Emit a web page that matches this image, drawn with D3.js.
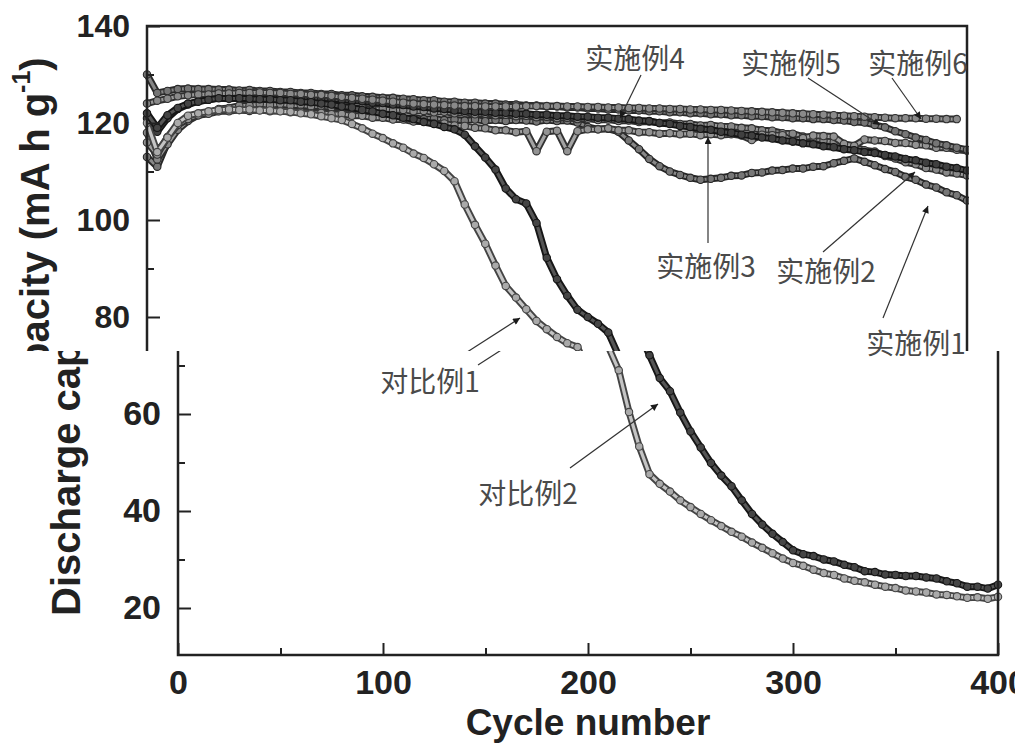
<!DOCTYPE html>
<html lang="zh">
<head>
  <meta charset="UTF-8">
  <title>Discharge capacity vs cycle number</title>
  <script src="https://d3js.org/d3.v7.min.js"></script>
  <style>
    body { margin: 0; background: #fff; }
    svg { display: block; }
    .tick text { font-family: "Liberation Sans", Arial, sans-serif; font-weight: bold; fill: #222; }
    .tick line { stroke: #222; stroke-width: 2; }
    .note { font-family: "Noto Sans CJK SC", sans-serif; fill: #4a4a4a; }
  </style>
</head>
<body>
  <svg width="1015" height="753"></svg>
  <script>
    const cycles = [
      0, 5, 10, 15, 20, 25, 30, 35, 40, 45,
      50, 55, 60, 65, 70, 75, 80, 85, 90, 95,
      100, 105, 110, 115, 120, 125, 130, 135, 140, 145,
      150, 155, 160, 165, 170, 175, 180, 185, 190, 195,
      200, 205, 210, 215, 220, 225, 230, 235, 240, 245,
      250, 255, 260, 265, 270, 275, 280, 285, 290, 295,
      300, 305, 310, 315, 320, 325, 330, 335, 340, 345,
      350, 355, 360, 365, 370, 375, 380, 385, 390, 395,
      400
    ];

    const ex1 = [
      113, 111, 116, 119.4, 121, 121.8, 122.1, 122.5, 122.6, 122.8,
      122.7, 122.9, 122.8, 122.6, 122.7, 122.4, 122.4, 122.2, 122.3, 122,
      122.1, 121.8, 121.7, 121.4, 121.4, 121, 121.1, 120.8, 120.9, 120.6,
      120.7, 120.5, 120.7, 120.4, 120.6, 120.4, 120.6, 120.5, 120.3, 120.6,
      120.4, 120.5, 120.1, 119.2, 118.7, 118.8, 118.2, 116.4, 114.6, 112.6,
      111.1, 110, 109.3, 108.7, 108.3, 108.5, 108.7, 109.1, 109.2, 109.7,
      109.8, 110.2, 110.3, 110.6, 110.6, 111, 111.1, 111.7, 112.2, 112.7,
      112, 111.3, 110.5, 109.9, 108.9, 108.3, 107.3, 106.7, 105.7, 105.1,
      104
    ];
    const ex2 = [
      118, 112.5, 115.6, 118.6, 120.4, 121.6, 122.1, 122.9, 123.1, 123.6,
      123.6, 123.9, 123.7, 123.9, 123.6, 123.7, 123.4, 123.5, 123.2, 123.3,
      123, 123.1, 122.8, 122.9, 122.6, 122.7, 122.4, 122.5, 122.2, 122.3,
      122, 122.1, 121.8, 121.9, 121.6, 121.7, 121.4, 121.5, 121.2, 121.3,
      121, 121.1, 120.8, 120.9, 120.6, 120.7, 120.4, 120.5, 120.2, 120.3,
      120, 120.1, 119.8, 119.8, 119.5, 119.6, 119.3, 119.3, 119, 118.9,
      118.5, 118.4, 117.9, 117.8, 117.2, 116.9, 116.4, 116.1, 115.4, 115.1,
      114.4, 114.1, 113.2, 112.7, 111.9, 111.5, 110.7, 110.4, 109.8, 109.6,
      109.2
    ];
    const ex3 = [
      116, 113.5, 117.1, 119.6, 120.8, 121.6, 121.9, 122.4, 122.4, 122.7,
      122.5, 122.7, 122.4, 122.5, 122.2, 122.3, 122, 122.1, 121.8, 121.9,
      121.5, 121.5, 121.1, 121.1, 120.7, 120.7, 120.3, 120.3, 119.9, 119.9,
      119.5, 119.4, 119, 118.9, 118.5, 118.5, 118.1, 118.3, 114.2, 118.2,
      118.4, 114.2, 118.3, 118.7, 118.7, 118.9, 118.5, 118.5, 118.1, 118.1,
      117.8, 117.9, 117.7, 117.8, 117.5, 117.7, 117.5, 117.7, 117.4, 116.5,
      117.6, 117.5, 117.5, 116.2, 116.9, 117.4, 117.3, 117.2, 115.7, 115.3,
      116.6, 116.4, 116.3, 115.9, 115.9, 115.5, 115.4, 114.9, 114.9, 114.5,
      114.3
    ];
    const ex4 = [
      121, 118.2, 121, 122.9, 123.8, 124.5, 124.8, 125.2, 125.3, 125.5,
      125.5, 125.6, 125.5, 125.5, 125.3, 125.3, 125.1, 125.1, 124.9, 124.8,
      124.6, 124.5, 124.2, 124.1, 123.8, 123.7, 123.4, 123.3, 123, 122.9,
      122.6, 122.5, 122.3, 122.3, 122.1, 122.1, 121.9, 121.9, 121.7, 121.7,
      121.5, 121.5, 121.3, 121.3, 121.1, 121.1, 120.9, 120.8, 120.5, 120.4,
      120, 119.8, 119.4, 119.2, 118.8, 118.6, 118.2, 118, 117.6, 117.4,
      117, 116.8, 116.4, 116.2, 115.8, 115.6, 115.2, 115, 114.6, 114.4,
      114, 113.8, 113.4, 113.1, 112.6, 112.3, 111.8, 111.5, 111, 110.7,
      110.2
    ];
    const ex5 = [
      130, 126.2, 126.6, 127, 127.1, 127, 127, 126.9, 126.9, 126.7,
      126.8, 126.6, 126.6, 126.4, 126.4, 126.2, 126.2, 126, 126, 125.7,
      125.7, 125.5, 125.4, 125.2, 125.2, 125, 124.9, 124.7, 124.7, 124.4,
      124.4, 124.2, 124.2, 124, 124, 123.8, 123.8, 123.6, 123.6, 123.4,
      123.4, 123.2, 123.2, 123, 123, 122.8, 122.8, 122.6, 122.6, 122.4,
      122.4, 122.2, 122.2, 122, 122, 121.8, 121.8, 121.6, 121.6, 121.4,
      121.4, 121.2, 121.2, 121, 121, 120.8, 120.8, 120.6, 120.5, 120.2,
      120.1, 119.6, 119.1, 118.3, 117.7, 117, 116.5, 115.8, 115.4, 114.9,
      114.5
    ];
    const ex6 = [
      124, 124.6, 125, 125.5, 125.7, 125.9, 125.9, 126.1, 126.1, 126.2,
      126.2, 126.3, 126.2, 126.2, 126, 126, 125.8, 125.8, 125.6, 125.4,
      125.2, 125, 124.8, 124.6, 124.4, 124.2, 124, 123.9, 123.8, 123.7,
      123.6, 123.5, 123.5, 123.4, 123.4, 123.4, 123.4, 123.5, 123.5, 123.5,
      123.5, 123.4, 123.4, 123.3, 123.3, 123.2, 123.2, 123.1, 123.1, 123,
      123, 122.9, 122.9, 122.8, 122.8, 122.7, 122.7, 122.6, 122.5, 122.4,
      122.3, 122.2, 122.1, 122, 121.9, 121.8, 121.7, 121.6, 121.5, 121.4,
      121.3, 121.2, 121.1, 121, 121, 121, 120.9, 120.9, 120.8, 120.8,
      null
    ];
    const cmp1 = [
      120, 114, 117, 120, 121.5, 122, 122.4, 122.7, 122.8, 122.7,
      122.8, 122.6, 122.6, 122.4, 122.3, 122, 121.8, 121.4, 121, 120.6,
      119.8, 118.9, 117.8, 116.9, 115.8, 114.9, 113.7, 112.8, 111.5, 110.1,
      108, 103.2, 99, 95.1, 90.6, 86.4, 84, 81.6, 79.2, 77.5,
      75.9, 74.6, 73.8, 69, 60.4, 53.3, 47.6, 45.6, 44, 42.2,
      40.8, 39.4, 38.1, 36.9, 35.7, 34.7, 33.5, 32.4, 31.3, 30.2,
      29.3, 28.7, 27.9, 27.2, 26.8, 26.1, 25.6, 25.3, 24.8, 24.4,
      24.1, 23.6, 23.4, 23.2, 22.8, 22.7, 22.4, 22.1, 22.2, 21.9,
      22.3
    ];
    const cmp2 = [
      122, 119, 121.6, 123.1, 124, 124.4, 124.8, 125.1, 125, 125.1,
      125, 124.9, 124.9, 124.7, 124.7, 124.4, 124.3, 124, 123.8, 123.4,
      123.2, 122.7, 122.4, 121.9, 121.6, 121.1, 120.8, 120.2, 119.8, 119.2,
      118.7, 117.6, 115.2, 112.9, 110.4, 106.5, 104.3, 103.4, 99.4, 92.2,
      87.8, 84.4, 81.5, 80, 78.6, 76.8, 72.1, 67.4, 64.7, 60.3,
      56.4, 53.1, 49.9, 47.3, 45.1, 42.2, 39.4, 37.2, 35.3, 33.6,
      31.9, 31.1, 30.7, 30, 29.6, 28.9, 28.4, 27.6, 27.4, 26.9,
      26.8, 26.6, 26.6, 26.3, 26.1, 25.5, 25.1, 24.4, 24.4, 24,
      24.8
    ];

    const seriesNames = ["实施例1", "实施例2", "实施例3", "实施例4", "实施例5", "实施例6", "对比例1", "对比例2"];
    const seriesValues = [ex1, ex2, ex3, ex4, ex5, ex6, cmp1, cmp2];
    const yTicks = [20, 40, 60, 80, 100, 120, 140];
    const yMinor = [30, 50, 70, 90, 110, 130];
    const xTicks = [0, 100, 200, 300, 400];
    const xMinor = [50, 150, 250, 350];

    // grey shades per series: [outline, inner, marker fill]
    const looks = [
      ["#262626", "#888", "#777"],
      ["#2e2e2e", "#999", "#888"],
      ["#333", "#a3a3a3", "#939393"],
      ["#161616", "#505050", "#404040"],
      ["#2a2a2a", "#858585", "#757575"],
      ["#303030", "#999", "#8a8a8a"],
      ["#444", "#c4c4c4", "#aaa"],
      ["#161616", "#555", "#454545"]
    ];

    const svg = d3.select("svg");
    const x = d3.scaleLinear().domain([0, 400]).range([178, 998]);
    const y = d3.scaleLinear().domain([10.31, 140]).range([655, 26]);
    const cut = 351; // row where the upper and the lower strip meet

    const defs = svg.append("defs");
    defs.append("clipPath").attr("id", "clipTop")
      .append("rect").attr("x", 0).attr("y", 0).attr("width", 969).attr("height", cut);
    defs.append("clipPath").attr("id", "clipBottom")
      .append("rect").attr("x", 0).attr("y", cut).attr("width", 1015).attr("height", 753 - cut);
    defs.append("marker")
      .attr("id", "arrow")
      .attr("viewBox", "0 0 10 10")
      .attr("refX", 10).attr("refY", 5)
      .attr("markerWidth", 11).attr("markerHeight", 7)
      .attr("markerUnits", "userSpaceOnUse")
      .attr("orient", "auto")
      .append("path").attr("d", "M0,0L10,5L0,10Z").attr("fill", "#1a1a1a");

    const table = seriesValues.map((vals, i) => ({
      name: seriesNames[i],
      look: looks[i],
      points: cycles.map((c, j) => ({ c: c, v: vals[j] })).filter(p => p.v != null)
    }));

    const line = d3.line().x(d => x(d.c)).y(d => y(d.v));

    const notes = [
      { t: "实施例4", tx: 666, ty: 57, a: [672, 75, 651, 118] },
      { t: "实施例5", tx: 822, ty: 62, a: [839, 78, 911, 125] },
      { t: "实施例6", tx: 949, ty: 62, a: [923, 78, 952, 119] },
      { t: "实施例3", tx: 737, ty: 265, a: [739, 243, 739, 137] },
      { t: "实施例2", tx: 857, ty: 270, a: [854, 252, 946, 172] },
      { t: "", tx: 0, ty: 0, a: [914, 318, 959, 206] },
      { t: "对比例1", tx: 430, ty: 380, a: [478, 365, 551, 318] },
      { t: "对比例2", tx: 528, ty: 492, a: [570, 468, 658, 404] }
    ];

    // draws the whole chart; isTop tells which strip it is for, so only texts of that strip are written
    function drawPanel(g, tickFont, isTop) {
      const inStrip = py => isTop ? py < cut : py > cut;

      const s = g.selectAll(".series").data(table).enter().append("g").attr("class", "series");
      s.append("path").attr("d", d => line(d.points))
        .attr("fill", "none").attr("stroke", d => d.look[0]).attr("stroke-width", 7)
        .attr("stroke-linejoin", "round");
      s.append("path").attr("d", d => line(d.points))
        .attr("fill", "none").attr("stroke", d => d.look[1]).attr("stroke-width", 3.2)
        .attr("stroke-linejoin", "round");
      s.selectAll("circle").data(d => d.points.map(p => ({ p: p, look: d.look }))).enter()
        .append("circle")
        .attr("cx", d => x(d.p.c)).attr("cy", d => y(d.p.v)).attr("r", 3.7)
        .attr("fill", d => d.look[2]).attr("stroke", d => d.look[0]).attr("stroke-width", 1.1);

      g.append("rect")
        .attr("x", x(0)).attr("y", y(140))
        .attr("width", x(400) - x(0)).attr("height", y(10.31) - y(140))
        .attr("fill", "none").attr("stroke", "#222").attr("stroke-width", 2.5);

      const ya = g.append("g").attr("transform", `translate(${x(0)},0)`)
        .call(d3.axisLeft(y).tickValues(yTicks).tickSize(-13).tickPadding(17)
          .tickFormat(v => inStrip(y(v)) ? v : ""));
      ya.selectAll("text").style("font-size", tickFont + "px");
      g.append("g").attr("transform", `translate(${x(0)},0)`)
        .call(d3.axisLeft(y).tickValues(yMinor).tickSize(-7).tickFormat(""));
      const xa = g.append("g").attr("transform", `translate(0,${y(10.31)})`)
        .call(d3.axisBottom(x).tickValues(xTicks).tickSize(-12).tickPadding(15)
          .tickFormat(v => isTop ? "" : v));
      xa.selectAll("text").style("font-size", tickFont + "px");
      g.append("g").attr("transform", `translate(0,${y(10.31)})`)
        .call(d3.axisBottom(x).tickValues(xMinor).tickSize(-7).tickFormat(""));
      g.selectAll(".domain").remove();

      if (!isTop) {
        g.append("text")
          .attr("x", 588).attr("y", 735)
          .attr("text-anchor", "middle")
          .style("font-family", "'Liberation Sans', Arial, sans-serif")
          .style("font-weight", "bold").style("font-size", "37px").style("fill", "#222")
          .text("Cycle number");
      }
      const yl = g.append("text")
        .attr("transform", "translate(80,616) rotate(-90)")
        .style("font-family", "'Liberation Sans', Arial, sans-serif")
        .style("font-weight", "bold").style("font-size", "40px").style("fill", "#222");
      yl.append("tspan").text("Discharge capacity (mA h g");
      yl.append("tspan").attr("dy", "-0.75em").style("font-size", "25px").text("-1");
      yl.append("tspan").attr("dy", "0.47em").text(")");

      notes.forEach(n => {
        g.append("line")
          .attr("x1", n.a[0]).attr("y1", n.a[1]).attr("x2", n.a[2]).attr("y2", n.a[3])
          .attr("stroke", "#333").attr("stroke-width", 1.2)
          .attr("marker-end", "url(#arrow)");
        if (n.t && inStrip(n.ty)) {
          g.append("text").attr("class", "note")
            .attr("x", n.tx).attr("y", n.ty)
            .attr("text-anchor", "middle").attr("dominant-baseline", "central")
            .style("font-size", "28px")
            .text(n.t);
        }
      });
    }

    const topPart = svg.append("g").attr("clip-path", "url(#clipTop)")
      .append("g").attr("transform", "translate(-31,0)");
    drawPanel(topPart, 32, true);

    const bottomPart = svg.append("g").attr("clip-path", "url(#clipBottom)");
    drawPanel(bottomPart, 34, false);

    svg.append("text").attr("class", "note")
      .attr("x", 916).attr("y", 342)
      .attr("text-anchor", "middle").attr("dominant-baseline", "central")
      .style("font-size", "28px")
      .text("实施例1");
  </script>
</body>
</html>
